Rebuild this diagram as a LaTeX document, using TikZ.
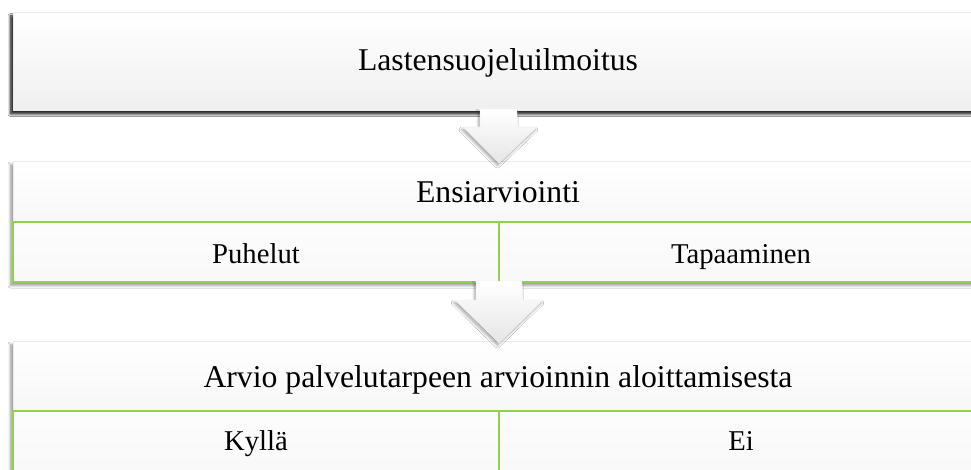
\documentclass[tikz,border=0pt]{standalone}
\usepackage{fontspec}
\setmainfont{Liberation Serif}
\usetikzlibrary{shadows.blur,calc}
\definecolor{ogreen}{RGB}{146,208,80}
\tikzset{
  panel/.style={draw=black!8, line width=0.6pt, top color=white, middle color=white, bottom color=black!6,
    inner sep=0pt, outer sep=0pt,
    blur shadow={shadow xshift=-2.5pt, shadow yshift=-3.5pt, shadow blur radius=2.5pt, shadow opacity=40, shadow blur steps=8}},
  darkpanel/.style={panel, blur shadow={shadow xshift=-2.5pt, shadow yshift=-4pt, shadow blur radius=2.5pt, shadow opacity=60, shadow blur steps=8}},
  subpanel/.style={draw=ogreen, line width=1.4pt, top color=black!1, bottom color=black!2.5, inner sep=0pt, outer sep=0pt},
  headtxt/.style={font=\fontsize{31.7}{38}\selectfont, anchor=base, inner sep=0pt},
  subtxt/.style={font=\fontsize{28.7}{34}\selectfont, anchor=base, inner sep=0pt},
  flow/.style={draw=black!7, line width=0.4pt, top color=white, bottom color=black!10,
    blur shadow={shadow xshift=-1.5pt, shadow yshift=-2.5pt, shadow blur radius=2.5pt, shadow opacity=35, shadow blur steps=8}}
}
\begin{document}
\begin{tikzpicture}[x=1pt,y=1pt]
\useasboundingbox[fill=white] (0,0) rectangle (971,-470);
% box 1
\node[darkpanel, minimum width=970pt, minimum height=98pt] (b1) at (498,-61) {};
\node[headtxt] (t1) at (498,-71) {Lastensuojeluilmoitus};
% box 2
\node[panel, minimum width=970pt, minimum height=121pt] (b2) at (498,-221.5) {};
\node[headtxt] (t2) at (498,-203) {Ensiarviointi};
\node[subpanel, minimum width=486pt, minimum height=60pt] (s21) at (256,-252) {};
\node[subpanel, minimum width=484pt, minimum height=60pt] (s22) at (741,-252) {};
\node[subtxt] (p21) at (256,-263) {Puhelut};
\node[subtxt] (p22) at (741,-263) {Tapaaminen};
% box 3
\node[panel, minimum width=970pt, minimum height=131pt] (b3) at (498,-406.5) {};
\node[headtxt] (t3) at (498,-387) {Arvio palvelutarpeen arvioinnin aloittamisesta};
\node[subpanel, minimum width=486pt, minimum height=61pt] (s31) at (256,-441.5) {};
\node[subpanel, minimum width=484pt, minimum height=61pt] (s32) at (741,-441.5) {};
\node[subtxt] (p31) at (256,-450) {Kyllä};
\node[subtxt] (p32) at (741,-450) {Ei};
% arrow 1
\path[flow] ($(b1.south)+(-18,1)$) -- ($(b1.south)+(19,1)$) -- ($(b1.south)+(19,-17)$)
  -- ($(b1.south)+(39,-17)$) -- ($(b2.north)+(1,-2)$) -- ($(b1.south)+(-35,-17)$)
  -- ($(b1.south)+(-18,-17)$) -- cycle;
% arrow 2
\path[flow] ($(b2.south)+(-22,1)$) -- ($(b2.south)+(24,1)$) -- ($(b2.south)+(24,-18)$)
  -- ($(b2.south)+(45,-18)$) -- ($(b3.north)+(1,-2)$) -- ($(b2.south)+(-43,-18)$)
  -- ($(b2.south)+(-22,-18)$) -- cycle;
\end{tikzpicture}
\end{document}
